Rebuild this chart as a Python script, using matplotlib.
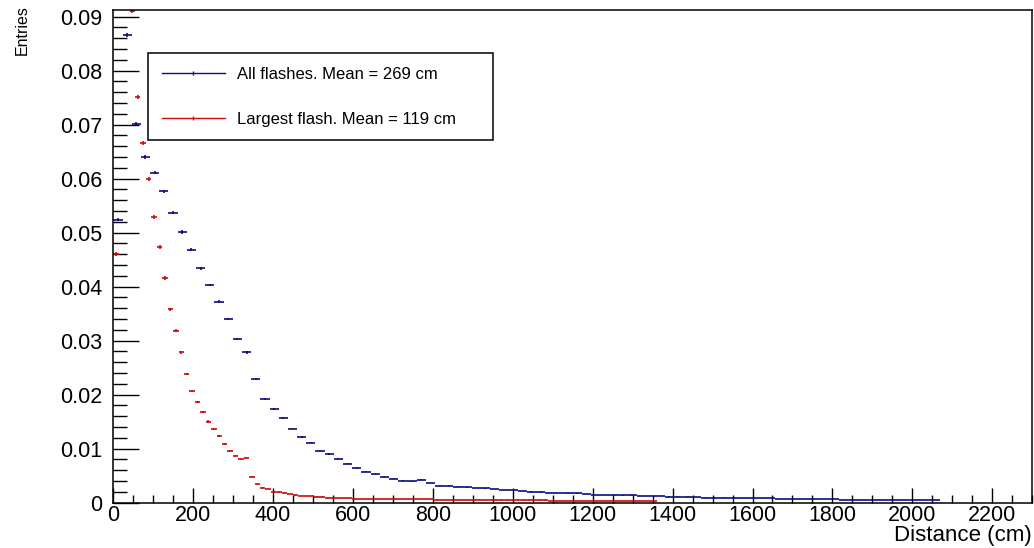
import numpy as np
import matplotlib
matplotlib.use("Agg")
import matplotlib.pyplot as plt
from matplotlib.lines import Line2D
from matplotlib.ticker import MultipleLocator

plt.rcParams['font.family'] = ['Liberation Sans', 'DejaVu Sans']

# Histogram data (normalised entries per bin)
all_bin_width = 23.0        # 100 bins, 0 - 2300 cm
largest_bin_width = 13.6    # 100 bins, 0 - 1360 cm

all_flashes = [
    0.0524, 0.0866, 0.0701, 0.0640, 0.0611, 0.0576, 0.0537, 0.0501, 0.0468, 0.0434,
    0.0403, 0.0372, 0.0340, 0.0303, 0.0278, 0.0228, 0.0192, 0.0173, 0.0156, 0.0137,
    0.0121, 0.0111, 0.0096, 0.0090, 0.0081, 0.0072, 0.0063, 0.0057, 0.0052, 0.0048,
    0.0044, 0.0040, 0.0039, 0.0042, 0.0036, 0.0031, 0.0031, 0.0029, 0.0028, 0.0027,
    0.0026, 0.0025, 0.0023, 0.0023, 0.0021, 0.0020, 0.0019, 0.0018, 0.0018, 0.0017,
    0.0017, 0.0016, 0.0014, 0.0014, 0.0013, 0.0013, 0.0013, 0.0012, 0.0012, 0.0012,
    0.0011, 0.0011, 0.0011, 0.0010, 0.0009, 0.0009, 0.0009, 0.0009, 0.0008, 0.0008,
    0.0008, 0.0008, 0.0007, 0.0007, 0.0007, 0.0006, 0.0006, 0.0006, 0.0006, 0.0005,
    0.0005, 0.0005, 0.0005, 0.0005, 0.0004, 0.0004, 0.0004, 0.0004, 0.0004, 0.0004,
    0, 0, 0, 0, 0, 0, 0, 0, 0, 0,
]

largest_flash = [
    0.0460, 0.0980, 0.0940, 0.0911, 0.0751, 0.0666, 0.0599, 0.0529, 0.0473, 0.0416,
    0.0358, 0.0318, 0.0278, 0.0238, 0.0206, 0.0186, 0.0168, 0.0150, 0.0137, 0.0123,
    0.0108, 0.0096, 0.0087, 0.0080, 0.0083, 0.0048, 0.0034, 0.0027, 0.0025, 0.0020,
    0.0019, 0.0018, 0.0016, 0.0013, 0.0012, 0.0012, 0.0012, 0.0011, 0.0011, 0.0009,
    0.0008, 0.0008, 0.0008, 0.0008, 0.0007, 0.0007, 0.0007, 0.0007, 0.0007, 0.0007,
    0.0007, 0.0007, 0.0006, 0.0006, 0.0006, 0.0006, 0.0006, 0.0006, 0.0006, 0.0005,
    0.0005, 0.0005, 0.0005, 0.0005, 0.0005, 0.0005, 0.0005, 0.0005, 0.0005, 0.0005,
    0.0004, 0.0004, 0.0004, 0.0004, 0.0004, 0.0004, 0.0004, 0.0004, 0.0004, 0.0004,
    0.0003, 0.0003, 0.0003, 0.0003, 0.0003, 0.0003, 0.0003, 0.0003, 0.0003, 0.0003,
    0.0003, 0.0003, 0.0003, 0.0003, 0.0003, 0.0003, 0.0003, 0.0003, 0.0003, 0.0003,
]

labels = ['All flashes. Mean = 269 cm', 'Largest flash. Mean = 119 cm']
colors = ['#0c0c80', '#cc0a0a']

x_ticks = list(range(0, 2201, 200))
y_ticks = [0, 0.01, 0.02, 0.03, 0.04, 0.05, 0.06, 0.07, 0.08, 0.09]
y_labels = ['0', '0.01', '0.02', '0.03', '0.04', '0.05', '0.06', '0.07', '0.08', '0.09']

fig = plt.figure(figsize=(10.34, 5.48), dpi=100)
ax = fig.add_axes([0.1096, 0.0830, 0.8886, 0.8987])

hists = [(all_flashes, all_bin_width, 1.6e-6), (largest_flash, largest_bin_width, 2.5e-6)]
for (vals, w, k), c in zip(hists, colors):
    vals = np.array(vals)
    centers = (np.arange(len(vals)) + 0.5) * w
    keep = vals > 0
    err = np.sqrt(vals[keep] * k)
    ax.errorbar(centers[keep], vals[keep], xerr=w / 2, yerr=err, fmt='none',
                ecolor=c, elinewidth=1.2, capsize=0)

ax.set_xlim(0, 2300)
ax.set_ylim(0, 0.0912)

ax.set_xticks(x_ticks)
ax.set_xticklabels([str(t) for t in x_ticks])
ax.xaxis.set_minor_locator(MultipleLocator(50))
ax.set_yticks(y_ticks)
ax.set_yticklabels(y_labels)
ax.yaxis.set_minor_locator(MultipleLocator(0.002))

ax.tick_params(axis='both', which='both', direction='in', top=False, right=False,
               width=1.0, colors='black')
ax.tick_params(axis='y', which='major', length=19, pad=8, labelsize=15.5)
ax.tick_params(axis='y', which='minor', length=10)
ax.tick_params(axis='x', which='major', length=11, pad=2, labelsize=15.5)
ax.tick_params(axis='x', which='minor', length=6)
for s in ax.spines.values():
    s.set_linewidth(1.1)
    s.set_color('black')

ax.set_xlabel('Distance (cm)', fontsize=16, loc='right')
ax.xaxis.set_label_coords(1.0, -0.046)
ax.set_ylabel('Entries', fontsize=11.5, loc='top')
ax.yaxis.set_label_coords(-0.091, 1.01)

handles = [Line2D([], [], color=c, lw=1.0, marker='|', markersize=3, markeredgewidth=1.0)
           for c in colors]
leg = ax.legend(handles, labels, loc='upper left', bbox_to_anchor=(0.038, 0.729, 0.375, 0.183),
                mode='expand', borderaxespad=0, fontsize=12, frameon=True, fancybox=False,
                edgecolor='black', framealpha=1, borderpad=0.8, labelspacing=1.8,
                handlelength=3.8, handletextpad=0.7, numpoints=1)
leg.get_frame().set_linewidth(1.1)

fig.savefig('out.png', dpi=100)
